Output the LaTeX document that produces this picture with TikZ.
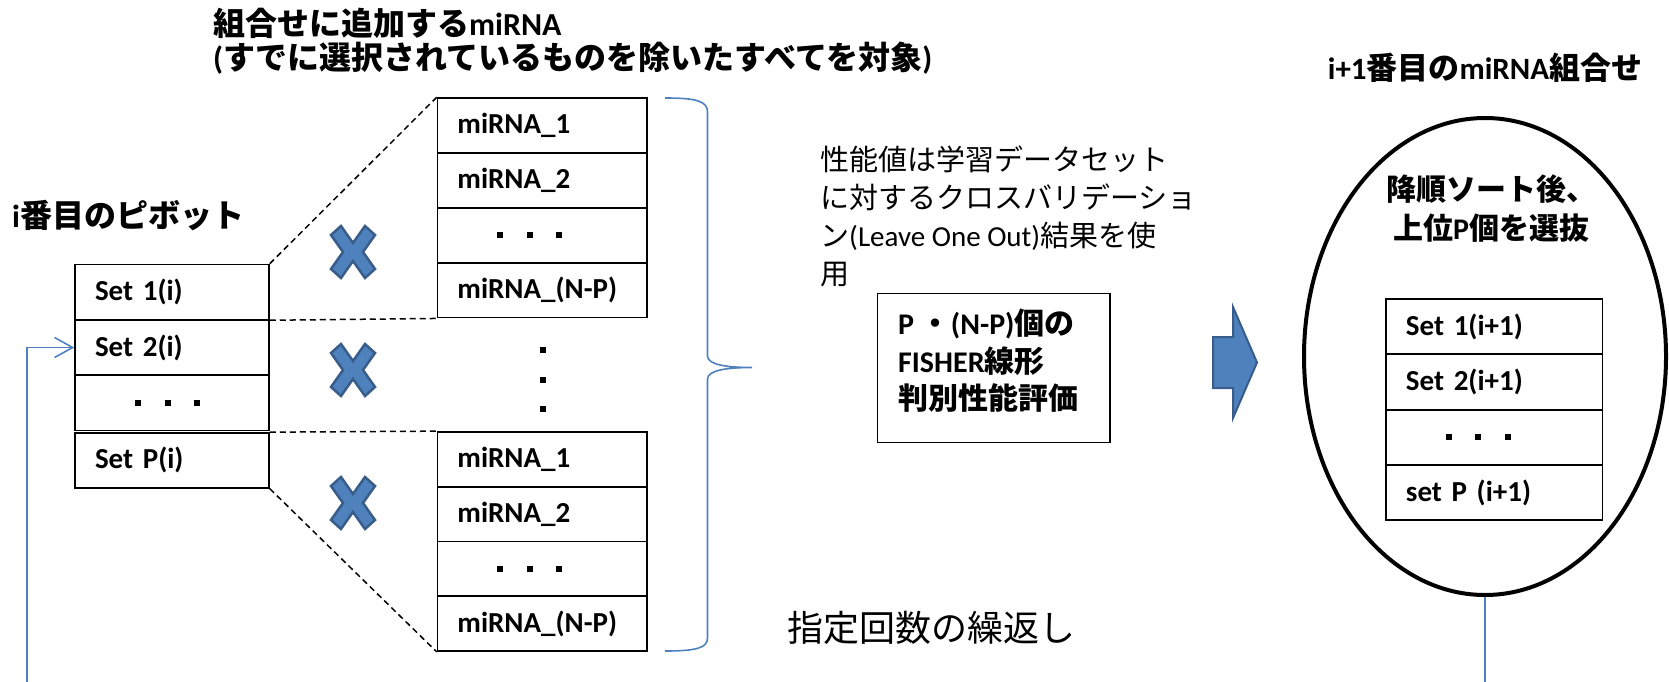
\documentclass[tikz,border=0pt]{standalone}
\usepackage{fontspec}
\setmainfont{Carlito}
\newfontfamily\cjk{Noto Sans CJK JP}
\usetikzlibrary{shapes.geometric,arrows.meta}
\definecolor{accent}{HTML}{4F81BD}
\definecolor{accentdark}{HTML}{385D8A}
\newcommand\J[1]{{\cjk #1}}
\newcommand\sqdots{\hspace*{40pt}\rule{6pt}{6pt}\hspace{23.5pt}\rule{6pt}{6pt}\hspace{23.5pt}\rule{6pt}{6pt}}
\tikzset{
  rowbox/.style={draw, line width=1.5pt, minimum height=55pt, inner xsep=20pt, inner ysep=0pt,
    align=left, text width=#1, font=\bfseries\fontsize{29}{30}\selectfont},
  dashlink/.style={draw, line width=1.5pt, dash pattern=on 6pt off 4pt},
  bluelink/.style={draw=accent, line width=1.6pt},
  xmark/.pic={\filldraw[fill=accent, draw=accentdark, line width=2.5pt, line join=miter]
    (-22,-17) -- (-12,-26) -- (0,-9) -- (12,-26) -- (22,-17) -- (10,0) -- (22,17) -- (12,26)
    -- (0,9) -- (-12,26) -- (-22,17) -- (-10,0) -- cycle;},
  title/.style={inner sep=0pt, font=\bfseries\fontsize{#1}{#1}\selectfont},
}
\begin{document}
\begin{tikzpicture}[x=1pt,y=-1pt]
\useasboundingbox (0,0) rectangle (1669,682);
\clip (0,0) rectangle (1669,682);

% titles
\node[title=32, anchor=base west] (t1) at (213,36) {\J{組合せに追加する}miRNA};
\node[title=32, anchor=base west] (t2) at (213,69.5) {(\J{すでに選択されているものを除いたすべてを対象})};
\node[title=32, anchor=base west] (piv) at (12,227.3) {i\J{番目のピボット}};
\node[title=31, anchor=base] (next) at (1485,80) {i+1\J{番目の}miRNA\J{組合せ}};

% left stack (pivot)
\node[rowbox=154pt, minimum width=194pt] (s1) at (172,292) {Set 1(i)};
\node[rowbox=154pt, minimum width=194pt] (s2) at (172,347.5) {Set 2(i)};
\node[rowbox=154pt, minimum width=194pt] (s3) at (172,403) {\sqdots};
\node[rowbox=154pt, minimum width=194pt] (sP) at (172,460.4) {Set P(i)};

% upper miRNA stack
\node[rowbox=169.5pt, minimum width=209.5pt] (m1) at (542.2,125.5) {miRNA\_1};
\node[rowbox=169.5pt, minimum width=209.5pt] (m2) at (542.2,180.4) {miRNA\_2};
\node[rowbox=169.5pt, minimum width=209.5pt] (m3) at (542.2,235.3) {\sqdots};
\node[rowbox=169.5pt, minimum width=209.5pt] (m4) at (542.2,290.2) {miRNA\_(N-P)};

% lower miRNA stack
\node[rowbox=169.5pt, minimum width=209.5pt] (n1) at (542.2,459.4) {miRNA\_1};
\node[rowbox=169.5pt, minimum width=209.5pt] (n2) at (542.2,514.1) {miRNA\_2};
\node[rowbox=169.5pt, minimum width=209.5pt] (n3) at (542.2,568.9) {\sqdots};
\node[rowbox=169.5pt, minimum width=209.5pt] (n4) at (542.2,623.6) {miRNA\_(N-P)};

% vertical dots between stacks
\fill (539.7,347) rectangle ++(6,6);
\fill (539.7,377) rectangle ++(6,6);
\fill (539.7,406) rectangle ++(6,6);

% dashed fan lines
\draw[dashlink] (s1.north east) -- (m1.north west);
\draw[dashlink] (s1.south east) -- (m4.south west);
\draw[dashlink] (sP.north east) -- (n1.north west);
\draw[dashlink] (sP.south east) -- (n4.south west);

% crosses
\pic at (353,252) {xmark};
\pic at (353,370) {xmark};
\pic at (353,503) {xmark};

% brace
\draw[bluelink] (665,98) .. controls (696,98) and (707.5,101) .. (707.5,112)
  -- (707.5,356) .. controls (707.5,365) and (728,367.5) .. (752,367.5)
  .. controls (728,367.5) and (707.5,370) .. (707.5,379)
  -- (707.5,638) .. controls (707.5,648) and (696,651) .. (665,651);

% explanation text
\node[anchor=west, align=left, inner sep=0pt, font=\fontsize{29}{37.8}\selectfont] (perf) at (820,216.3)
  {\J{性能値は学習データセット}\\\J{に対するクロスバリデーショ}\\\J{ン}(Leave One Out)\J{結果を使}\\\J{用}};

% FISHER box
\node[draw, line width=1.5pt, minimum width=232.7pt, minimum height=149pt] (fbox) at (993.7,367.8) {};
\node[anchor=west, align=left, inner sep=0pt, font=\bfseries\fontsize{30}{37.7}\selectfont] (ftxt) at (898,360.7)
  {P \J{・}(N-P)\J{個の}\\FISHER\J{線形}\\\J{判別性能評価}};

% block arrow
\filldraw[fill=accent, draw=accentdark, line width=2pt, line join=miter]
  (1213,337) -- (1233,337) -- (1233,307) -- (1257,362.5) -- (1233,418) -- (1233,388) -- (1213,388) -- cycle;

% repeat label
\node[inner sep=0pt, font=\fontsize{36}{40}\selectfont] (rep) at (931.5,628) {\J{指定回数の繰返し}};

% ellipse with next combination
\node[ellipse, draw, line width=4pt, minimum width=362pt, minimum height=477pt, inner sep=0pt] (ell) at (1485,356.5) {};
\node[title=30] (sortA) at (1491,189.5) {\J{降順ソート後、}};
\node[title=30] (sortB) at (1491,228) {\J{上位}P\J{個を選抜}};

\node[rowbox=176.7pt, minimum width=216.7pt] (q1) at (1494.3,326.5) {Set 1(i+1)};
\node[rowbox=176.7pt, minimum width=216.7pt] (q2) at (1494.3,381.9) {Set 2(i+1)};
\node[rowbox=176.7pt, minimum width=216.7pt] (q3) at (1494.3,437.3) {\sqdots};
\node[rowbox=176.7pt, minimum width=216.7pt] (q4) at (1494.3,492.7) {set P (i+1)};

% loop connector back to pivot
\coordinate (loopL) at (26.7,720);
\draw[bluelink, -{Straight Barb[length=18pt,width=20pt]}]
  (ell.south) -- (ell.south |- loopL) -- (loopL) |- (s2.west);
\end{tikzpicture}
\end{document}
